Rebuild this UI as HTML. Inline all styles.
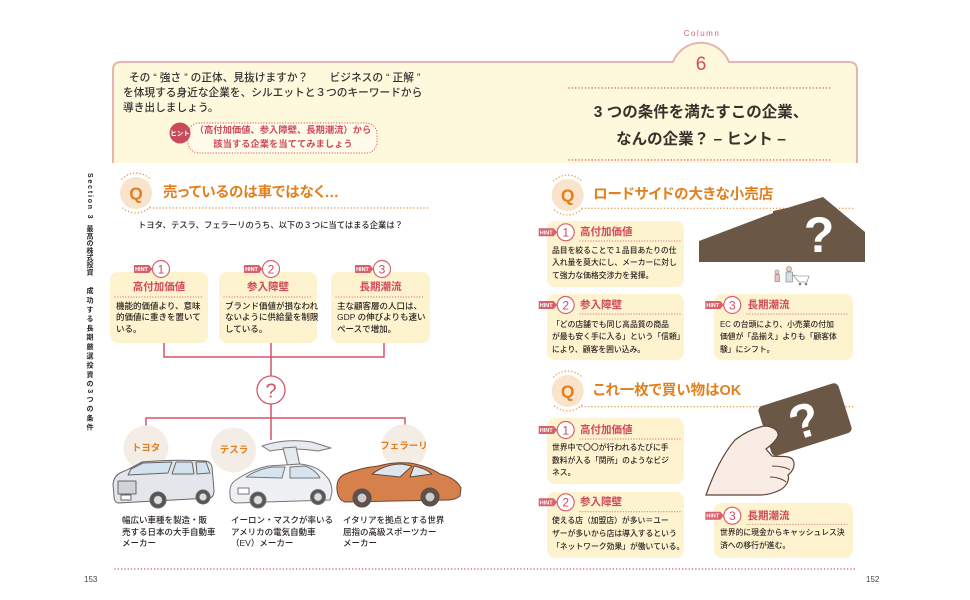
<!DOCTYPE html>
<html><head><meta charset="utf-8">
<style>
html,body{margin:0;padding:0;}
body{width:970px;height:600px;position:relative;overflow:hidden;background:#fff;font-family:"Liberation Sans","Noto Sans CJK JP",sans-serif;color:#2b2523;}
.t{position:absolute;white-space:pre;line-height:1;}
.v{position:absolute;writing-mode:vertical-rl;white-space:pre;line-height:1;font-weight:bold;color:#2b2523;font-size:7px;}
.or{color:#e0801e;font-weight:bold;}
.qt{font-size:14.5px;font-feature-settings:"palt";}
.rd{color:#cf4a5b;font-weight:bold;font-size:10.5px;}
.b1{font-size:8.5px;line-height:11.3px;font-weight:500;}
.b2{font-size:7.8px;line-height:12.8px;font-weight:500;}
svg text{font-family:"Liberation Sans","Noto Sans CJK JP",sans-serif;}
</style></head><body>
<svg width="970" height="600" style="position:absolute;left:0;top:0">
<!-- header box -->
<path d="M113,163 V70 Q113,62 121,62 H673 A30,30 0 0 1 729,62 H849 Q857,62 857,70 V163" fill="#fef9dc" stroke="#e8b5ae" stroke-width="2"/>
<g stroke="#d9616e" stroke-width="1.4" stroke-linecap="round" stroke-dasharray="0.1 3.2" fill="none">
<line x1="569" y1="88" x2="832" y2="88"/>
<line x1="569" y1="160" x2="832" y2="160"/>
<line x1="115" y1="569" x2="857" y2="569"/>
</g>
<!-- hint badge -->
<rect x="188" y="123" width="189" height="30" rx="11" fill="#fffcec" stroke="#d9616e" stroke-width="1.2" stroke-dasharray="0.1 2.6" stroke-linecap="round"/>
<circle cx="180" cy="133" r="10.5" fill="#c94a5a"/>
<text x="180" y="135.4" font-size="6.5" font-weight="bold" fill="#fff" text-anchor="middle">ヒント</text>

<!-- orange dotted lines & Q rings -->
<g stroke="#e69a4a" stroke-width="1.4" stroke-linecap="round" stroke-dasharray="0.1 3.2" fill="none">
<line x1="150" y1="208" x2="428" y2="208"/>
<line x1="582" y1="208.3" x2="855" y2="208.3"/>
<line x1="582" y1="406.7" x2="855" y2="406.7"/>
<path d="M121.9,178.9 A20,20 0 0 1 150.1,178.9"/>
<path d="M150.1,207.1 A20,20 0 0 1 121.9,207.1"/>
<path d="M553.6,180.9 A20,20 0 0 1 581.8,180.9"/>
<path d="M581.8,209.1 A20,20 0 0 1 553.6,209.1"/>
<path d="M553.6,376.9 A20,20 0 0 1 581.8,376.9"/>
<path d="M581.8,405.1 A20,20 0 0 1 553.6,405.1"/>
</g>
<circle cx="136" cy="193" r="16" fill="#f9e3cb"/>
<circle cx="567.7" cy="195" r="16" fill="#f9e3cb"/>
<circle cx="567.7" cy="391" r="16" fill="#f9e3cb"/>
<g font-size="17.5" font-weight="bold" fill="#e0801e" text-anchor="middle">
<text x="136" y="199.3">Q</text>
<text x="567.7" y="201.3">Q</text>
<text x="567.7" y="397.3">Q</text>
</g>

<!-- cards -->
<g fill="#fdf3cf">
<rect x="110" y="272" width="98" height="71" rx="8"/>
<rect x="219" y="272" width="98" height="71" rx="8"/>
<rect x="331" y="272" width="99" height="71" rx="8"/>
<rect x="547" y="221" width="137" height="66" rx="8"/>
<rect x="547" y="294" width="137" height="66" rx="8"/>
<rect x="714" y="294" width="139" height="66" rx="8"/>
<rect x="547" y="418" width="137" height="66" rx="8"/>
<rect x="547" y="492" width="137" height="66" rx="8"/>
<rect x="714" y="503" width="139" height="55" rx="8"/>
</g>
<g stroke="#e07a86" stroke-width="1.2" stroke-linecap="round" stroke-dasharray="0.1 2.6" fill="none">
<line x1="115" y1="297" x2="203" y2="297"/>
<line x1="224" y1="297" x2="312" y2="297"/>
<line x1="336" y1="297" x2="425" y2="297"/>
<line x1="580" y1="241" x2="680" y2="241"/>
<line x1="580" y1="314" x2="680" y2="314"/>
<line x1="747" y1="314" x2="849" y2="314"/>
<line x1="580" y1="439" x2="680" y2="439"/>
<line x1="580" y1="511.7" x2="680" y2="511.7"/>
<line x1="747" y1="524.3" x2="849" y2="524.3"/>
</g>

<!-- HINT badges -->
<g fill="#d9616e">
<path d="M134,265 H149 L152.5,269 L149,273 H134 Z"/>
<path d="M244,265 H259 L262.5,269 L259,273 H244 Z"/>
<path d="M355,265 H370 L373.5,269 L370,273 H355 Z"/>
<path d="M538.7,228.3 H553.7 L557.2,232.3 L553.7,236.3 H538.7 Z"/>
<path d="M538.7,301 H553.7 L557.2,305 L553.7,309 H538.7 Z"/>
<path d="M705.3,301 H720.3 L723.8,305 L720.3,309 H705.3 Z"/>
<path d="M538.7,426 H553.7 L557.2,430 L553.7,434 H538.7 Z"/>
<path d="M538.7,498.3 H553.7 L557.2,502.3 L553.7,506.3 H538.7 Z"/>
<path d="M705.3,511.7 H720.3 L723.8,515.7 L720.3,519.7 H705.3 Z"/>
</g>
<g font-size="5.5" font-weight="bold" fill="#fff" text-anchor="middle">
<text x="141.5" y="271">HINT</text>
<text x="251.5" y="271">HINT</text>
<text x="362.5" y="271">HINT</text>
<text x="546.2" y="234.3">HINT</text>
<text x="546.2" y="307">HINT</text>
<text x="712.8" y="307">HINT</text>
<text x="546.2" y="432">HINT</text>
<text x="546.2" y="504.3">HINT</text>
<text x="712.8" y="517.7">HINT</text>
</g>
<g fill="#fff" stroke="#d9616e" stroke-width="1.2">
<circle cx="161" cy="269" r="8.5"/>
<circle cx="271" cy="269" r="8.5"/>
<circle cx="382" cy="269" r="8.5"/>
<circle cx="565.7" cy="232.3" r="8.5"/>
<circle cx="565.7" cy="305" r="8.5"/>
<circle cx="732.3" cy="305" r="8.5"/>
<circle cx="565.7" cy="430" r="8.5"/>
<circle cx="565.7" cy="502.3" r="8.5"/>
<circle cx="732.3" cy="515.7" r="8.5"/>
</g>
<g font-size="12" fill="#cf4a5b" text-anchor="middle">
<text x="161" y="273.3">1</text>
<text x="271" y="273.3">2</text>
<text x="382" y="273.3">3</text>
<text x="565.7" y="236.6">1</text>
<text x="565.7" y="309.3">2</text>
<text x="732.3" y="309.3">3</text>
<text x="565.7" y="434.3">1</text>
<text x="565.7" y="506.6">2</text>
<text x="732.3" y="520">3</text>
</g>

<!-- connectors -->
<path d="M164,343 V357 H384 V343 M271,343 V376 M271,404 V440 M146,428 V418 H405 V428" stroke="#d4556a" stroke-width="1.5" fill="none"/>
<circle cx="271" cy="390" r="14" fill="#fff" stroke="#d4556a" stroke-width="1.3"/>
<text x="271" y="397.3" font-size="20" fill="#d4556a" text-anchor="middle">?</text>

<!-- label circles -->
<g fill="#f3ede6">
<circle cx="146" cy="448" r="22.5"/>
<circle cx="233.5" cy="450" r="22.5"/>
<circle cx="404" cy="447" r="22.5"/>
</g>

<!-- Toyota van -->
<g stroke="#666" stroke-width="1" stroke-linejoin="round">
<path d="M114,496 L113,484 Q114,476 120,473 L131,468 L142,462 Q175,459 206,461 Q211,462 212,467 L214,490 Q214,497 210,498 L118,503 Q114,502 114,496 Z" fill="#e4e6ec"/>
<path d="M131,469 L143,463 L172,462 L168,473 L128,475 Z" fill="#d3e2ef"/>
<path d="M176,462 L192,462 L194,474 L172,474 Z" fill="#d3e2ef"/>
<path d="M196,462 L206,462 L210,473 L197,474 Z" fill="#d3e2ef"/>
<rect x="118" y="481" width="18" height="13" fill="#cfd2d8"/>
<rect x="121" y="495" width="10" height="5" fill="#fff"/>
<circle cx="158" cy="500" r="8" fill="#555"/>
<circle cx="158" cy="500" r="4.5" fill="#ddd"/>
<circle cx="203" cy="497" r="7" fill="#555"/>
<circle cx="203" cy="497" r="4" fill="#ddd"/>
</g>
<!-- Tesla -->
<g stroke="#777" stroke-width="1" stroke-linejoin="round">
<path d="M262,446 Q285,438 312,442 L331,448 L318,451 Q290,447 270,451 Z" fill="#e6e9ee"/>
<path d="M283,448 L296,447 L300,466 L288,467 Z" fill="#e6e9ee"/>
<path d="M230,495 Q229,484 236,480 Q250,470 268,466 L300,464 Q318,466 326,476 Q332,482 332,492 L330,500 L236,503 Q230,502 230,495 Z" fill="#eef0f4"/>
<path d="M246,477 Q258,469 272,467 L285,467 L282,478 Z" fill="#d6e4ef"/>
<path d="M290,467 L305,466 Q316,470 320,478 L290,478 Z" fill="#d6e4ef"/>
<rect x="238" y="488" width="11" height="6" fill="#fff"/>
<circle cx="258" cy="500" r="8" fill="#555"/>
<circle cx="258" cy="500" r="4.5" fill="#ddd"/>
<circle cx="318" cy="497" r="7.5" fill="#555"/>
<circle cx="318" cy="497" r="4.2" fill="#ddd"/>
</g>
<!-- Ferrari -->
<g stroke="#6a4535" stroke-width="1" stroke-linejoin="round">
<path d="M337,490 Q336,478 345,474 Q360,468 378,466 Q392,462 410,463 Q428,466 440,474 Q456,478 461,488 L460,496 Q455,500 448,500 L345,502 Q338,500 337,490 Z" fill="#d6804c"/>
<path d="M372,474 Q385,464 402,464 L412,466 L400,477 Z" fill="#dbe6ee"/>
<path d="M414,466 Q425,468 432,474 L410,477 Z" fill="#dbe6ee"/>
<circle cx="362" cy="498" r="9" fill="#555"/>
<circle cx="362" cy="498" r="5" fill="#ccc"/>
<circle cx="430" cy="497" r="9" fill="#555"/>
<circle cx="430" cy="497" r="5" fill="#ccc"/>
</g>

<!-- building -->
<polygon points="699,262 699,241 773,213 773,211 787,208 823,197 865,232 865,262" fill="#6b5745"/>
<text x="819" y="252" font-size="50" font-weight="bold" fill="#fff" text-anchor="middle">?</text>
<!-- people & cart -->
<g stroke="#8a7a6a" stroke-width="0.6">
<circle cx="777" cy="272" r="2" fill="#ead0bd"/>
<rect x="775" y="274.5" width="4.5" height="7" fill="#f0b8c8"/>
<circle cx="789" cy="269" r="2.5" fill="#ead0bd"/>
<rect x="786" y="272" width="6.5" height="10" fill="#cfe0ee"/>
<path d="M793,275 L798,276 L809,276 L807,282 L799,282 Z" fill="none" stroke="#777"/>
<circle cx="800" cy="284" r="1" fill="#777"/>
<circle cx="806" cy="284" r="1" fill="#777"/>
</g>

<!-- card & hand -->
<g transform="rotate(-17.6 805 419.5)">
<rect x="763" y="393.5" width="84" height="52" rx="5" fill="#6b5745"/>
<text x="804" y="437" font-size="48" font-weight="bold" fill="#fff" text-anchor="middle">?</text>
</g>
<path d="M706,495 C712,478 722,455 735,440 C745,432 755,428 764,426 C772,426 779,430 778,436 C776,441 770,446 766,449 L772,456 C780,457 790,455 793,460 C796,466 792,472 788,475 C790,480 786,487 780,490 C772,494 765,495 760,495 Z" fill="#f8ece5" stroke="#5e4536" stroke-width="1.2"/>
<path d="M772,466 C780,466 788,468 790,470 M770,477 C778,477 784,480 786,482" stroke="#5e4536" stroke-width="1" fill="none"/>
</svg>

<!-- header texts -->
<div class="t" style="left:671px;width:62px;text-align:center;top:30px;font-size:8px;letter-spacing:1.5px;color:#d9606c;">Column</div>
<div class="t" style="left:681px;width:40px;text-align:center;top:55px;font-size:19px;color:#d24a5a;">6</div>
<div class="t" style="left:560px;width:282px;text-align:center;top:98.5px;font-size:15.5px;line-height:27px;font-weight:bold;color:#3b302b;">3 つの条件を満たすこの企業、
なんの企業？ – ヒント –</div>
<div class="t" style="left:123px;top:70.6px;font-size:10.7px;line-height:15.4px;color:#333;font-weight:500;">  その “ 強さ ” の正体、見抜けますか？　　ビジネスの “ 正解 ”
を体現する身近な企業を、シルエットと３つのキーワードから
導き出しましょう。</div>
<div class="t" style="left:188px;width:190px;text-align:center;top:124.2px;font-size:9.3px;line-height:13.5px;font-weight:bold;color:#cf4a5b;">（高付加価値、参入障壁、長期潮流）から
該当する企業を当ててみましょう</div>

<!-- vertical section text -->
<div class="v" style="left:86px;top:173px;letter-spacing:1.8px;">Section 3</div>
<div class="v" style="left:86px;top:225px;letter-spacing:0.2px;">最高の株式投資</div>
<div class="v" style="left:86px;top:287px;letter-spacing:2.3px;">成功する長期厳選投資の3つの条件</div>

<!-- left Q -->
<div class="t or qt" style="left:163px;top:186.2px;">売っているのは車ではなく…</div>
<div class="t" style="left:138px;top:221.1px;font-size:8.3px;font-weight:500;">トヨタ、テスラ、フェラーリのうち、以下の３つに当てはまる企業は？</div>

<div class="t rd" style="left:110px;width:98px;text-align:center;top:282.4px;">高付加価値</div>
<div class="t rd" style="left:219px;width:98px;text-align:center;top:282.4px;">参入障壁</div>
<div class="t rd" style="left:331px;width:99px;text-align:center;top:282.4px;">長期潮流</div>
<div class="t b1" style="left:116px;top:301px;">機能的価値より、意味
的価値に重きを置いて
いる。</div>
<div class="t b1" style="left:225px;top:301px;">ブランド価値が損なわれ
ないように供給量を制限
している。</div>
<div class="t b1" style="left:337px;top:301px;">主な顧客層の人口は、
GDP の伸びよりも速い
ペースで増加。</div>

<div class="t or" style="left:116px;width:60px;text-align:center;top:443.5px;font-size:9.5px;">トヨタ</div>
<div class="t or" style="left:204px;width:60px;text-align:center;top:446.2px;font-size:9.5px;">テスラ</div>
<div class="t or" style="left:368px;width:72px;text-align:center;top:442px;font-size:9.5px;">フェラーリ</div>

<div class="t b1" style="left:122px;top:515px;line-height:11.5px;">幅広い車種を製造・販
売する日本の大手自動車
メーカー</div>
<div class="t b1" style="left:231px;top:515px;line-height:11.5px;">イーロン・マスクが率いる
アメリカの電気自動車
（EV）メーカー</div>
<div class="t b1" style="left:343px;top:515px;line-height:11.5px;">イタリアを拠点とする世界
屈指の高級スポーツカー
メーカー</div>

<!-- right Q1 -->
<div class="t or qt" style="left:593px;top:188.2px;">ロードサイドの大きな小売店</div>
<div class="t rd" style="left:580px;top:227.4px;">高付加価値</div>
<div class="t b2" style="left:552px;top:244.6px;">品目を絞ることで１品目あたりの仕
入れ量を莫大にし、メーカーに対し
て強力な価格交渉力を発揮。</div>
<div class="t rd" style="left:580px;top:300.1px;">参入障壁</div>
<div class="t b2" style="left:552px;top:318.6px;">「どの店舗でも同じ高品質の商品
が最も安く手に入る」という「信頼」
により、顧客を囲い込み。</div>
<div class="t rd" style="left:747.5px;top:300.1px;">長期潮流</div>
<div class="t b2" style="left:720px;top:318.6px;">EC の台頭により、小売業の付加
価値が「品揃え」よりも「顧客体
験」にシフト。</div>

<!-- right Q2 -->
<div class="t or qt" style="left:593px;top:384.2px;">これ一枚で買い物はOK</div>
<div class="t rd" style="left:580px;top:425.1px;">高付加価値</div>
<div class="t b2" style="left:552px;top:441.9px;">世界中で〇〇が行われるたびに手
数料が入る「関所」のようなビジ
ネス。</div>
<div class="t rd" style="left:580px;top:497.4px;">参入障壁</div>
<div class="t b2" style="left:552px;top:515.3px;">使える店（加盟店）が多い＝ユー
ザーが多いから店は導入するという
「ネットワーク効果」が働いている。</div>
<div class="t rd" style="left:747.5px;top:510.8px;">長期潮流</div>
<div class="t b2" style="left:720px;top:526.9px;">世界的に現金からキャッシュレス決
済への移行が進む。</div>

<!-- page numbers -->
<div class="t" style="left:84px;top:576px;font-size:8px;color:#444;">153</div>
<div class="t" style="left:866px;top:576px;font-size:8px;color:#444;">152</div>
</body></html>
